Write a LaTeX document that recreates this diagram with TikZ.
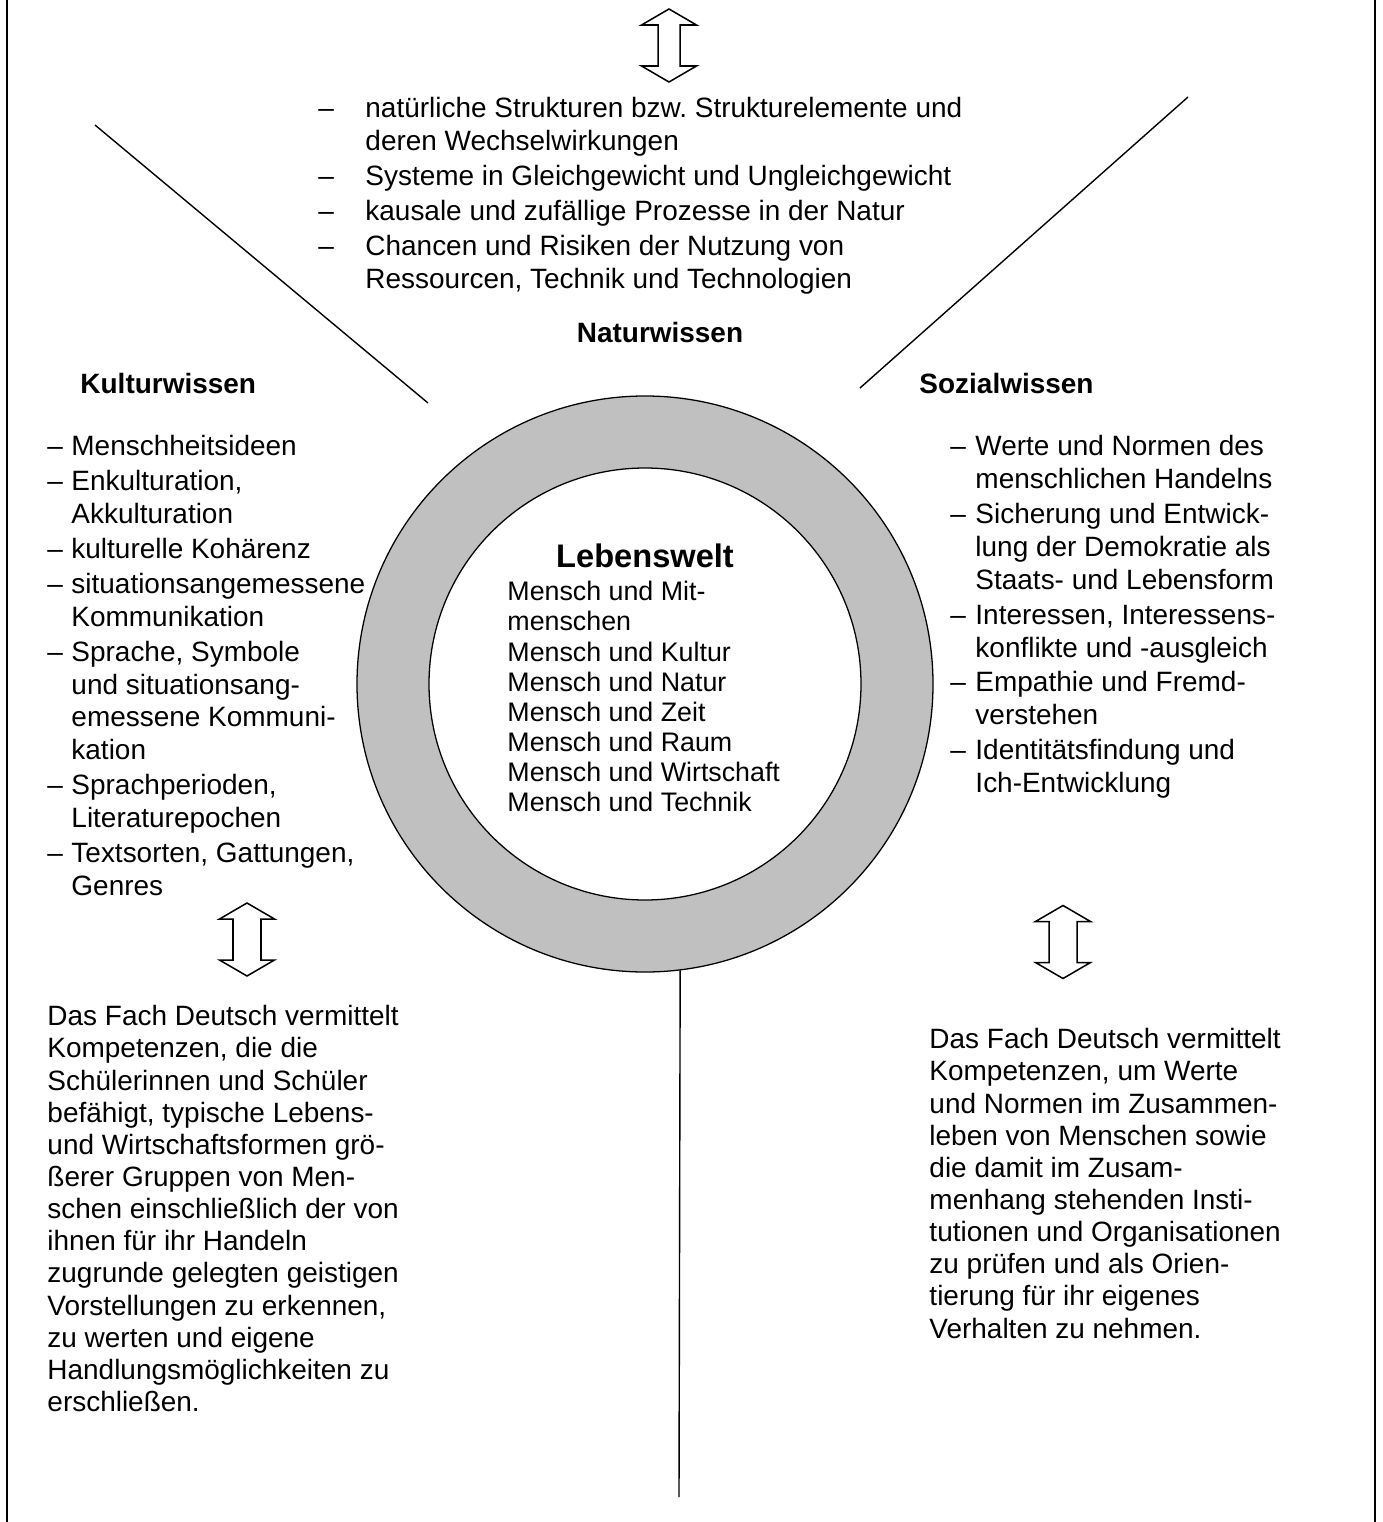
\documentclass[tikz,border=0pt]{standalone}
\usepackage{fontspec}
\setmainfont{Liberation Sans}
\usepackage{tikz}
\usetikzlibrary{positioning}
\definecolor{ringgrau}{RGB}{192,192,192}
\newlength{\einheit}
\setlength{\einheit}{0.4292pt}
\newcommand{\strich}[1]{\makebox[#1\einheit][l]{–}}
\newcommand{\einr}[1]{\hspace*{#1\einheit}}
\frenchspacing
\tikzset{
  liste/.style={anchor=north west, inner sep=0pt, align=left, font=\fontsize{12}{14.1}\selectfont},
  absatz/.style={anchor=north west, inner sep=0pt, align=left, font=\fontsize{12}{13.8}\selectfont},
  titel/.style={anchor=base west, inner sep=0pt, font=\fontsize{12}{14}\selectfont\bfseries},
  ring/.style={circle, draw, line width=0.55pt, inner sep=0pt},
  linie/.style={line width=0.6pt},
  pics/doppelpfeil/.style={code={
    \draw[fill=white, line width=0.65pt, line join=miter]
      (0,-36.5) -- (27.5,-20.5) -- (#1,-20.5) -- (#1,20.5) -- (27.5,20.5) -- (0,36.5)
      -- (-27.5,20.5) -- (-#1,20.5) -- (-#1,-20.5) -- (-27.5,-20.5) -- cycle;
  }},
  pics/doppelpfeil/.default=13
}
\begin{document}
\begin{tikzpicture}[x=\einheit, y=-\einheit]
\useasboundingbox (0,0) rectangle (1383,1522);
\draw[line width=0.7pt] (7,0) -- (7,1522);
\draw[line width=0.7pt] (1375,0) -- (1375,1522);

\node[ring, minimum size=576\einheit, fill=ringgrau] (ring) at (645,684) {};
\node[ring, minimum size=432\einheit, fill=white] (kern) at (645,684) {};
\coordinate (fuss) at (679,1497);
\draw[linie] (ring.-83.2) -- (fuss);

\coordinate (nwa) at (95,125);
\coordinate (nwb) at (428,403);
\coordinate (noa) at (1188,97);
\coordinate (nob) at (860,388);
\draw[linie] (nwa) -- (nwb);
\draw[linie] (noa) -- (nob);

\pic (pfeilnatur) at (669,45.5) {doppelpfeil=11};
\pic (pfeilkultur) at (247,939.5) {doppelpfeil=14};
\pic (pfeilsozial) at (1063,942) {doppelpfeil=14};

\node[liste] (natur) at (318,97) {\strich{47}natürliche Strukturen bzw. Strukturelemente und\\
\einr{47}deren Wechselwirkungen\\[0.9pt]
\strich{47}Systeme in Gleichgewicht und Ungleichgewicht\\[0.9pt]
\strich{47}kausale und zufällige Prozesse in der Natur\\[0.9pt]
\strich{47}Chancen und Risiken der Nutzung von\\
\einr{47}Ressourcen, Technik und Technologien};
\node[titel, anchor=base] (naturtitel) at (660,342) {Naturwissen};

\node[titel] (kulturtitel) at (80,393) {Kulturwissen};
\node[liste] (kultur) at (47,435) {\strich{24}Menschheitsideen\\[0.9pt]
\strich{24}Enkulturation,\\
\einr{24}Akkulturation\\[0.9pt]
\strich{24}kulturelle Kohärenz\\[0.9pt]
\strich{24}situationsangemessene\\
\einr{24}Kommunikation\\[0.9pt]
\strich{24}Sprache, Symbole\\
\einr{24}und situationsang-\\
\einr{24}emessene Kommuni-\\
\einr{24}kation\\[0.9pt]
\strich{24}Sprachperioden,\\
\einr{24}Literaturepochen\\[0.9pt]
\strich{24}Textsorten, Gattungen,\\
\einr{24}Genres};

\node[titel] (sozialtitel) at (919,393) {Sozialwissen};
\node[liste] (sozial) at (950,435) {\strich{25}Werte und Normen des\\
\einr{25}menschlichen Handelns\\[0.9pt]
\strich{25}Sicherung und Entwick-\\
\einr{25}lung der Demokratie als\\
\einr{25}Staats- und Lebensform\\[0.9pt]
\strich{25}Interessen, Interessens-\\
\einr{25}konflikte und -ausgleich\\[0.9pt]
\strich{25}Empathie und Fremd-\\
\einr{25}verstehen\\[0.9pt]
\strich{25}Identitätsfindung und\\
\einr{25}Ich-Entwicklung};

\node[titel, anchor=base, font=\fontsize{14}{16}\selectfont\bfseries] (lebentitel) at (645,567) {Lebenswelt};
\node[liste, font=\fontsize{11.5}{12.9}\selectfont] (leben) at (507,581) {Mensch und Mit-\\
menschen\\
Mensch und Kultur\\
Mensch und Natur\\
Mensch und Zeit\\
Mensch und Raum\\
Mensch und Wirtschaft\\
Mensch und Technik};

\node[absatz] (kulturfach) at (47,1005) {Das Fach Deutsch vermittelt\\
Kompetenzen, die die\\
Schülerinnen und Schüler\\
befähigt, typische Lebens-\\
und Wirtschaftsformen grö-\\
ßerer Gruppen von Men-\\
schen einschließlich der von\\
ihnen für ihr Handeln\\
zugrunde gelegten geistigen\\
Vorstellungen zu erkennen,\\
zu werten und eigene\\
Handlungsmöglichkeiten zu\\
erschließen.};

\node[absatz] (sozialfach) at (929,1028) {Das Fach Deutsch vermittelt\\
Kompetenzen, um Werte\\
und Normen im Zusammen-\\
leben von Menschen sowie\\
die damit im Zusam-\\
menhang stehenden Insti-\\
tutionen und Organisationen\\
zu prüfen und als Orien-\\
tierung für ihr eigenes\\
Verhalten zu nehmen.};
\end{tikzpicture}
\end{document}
